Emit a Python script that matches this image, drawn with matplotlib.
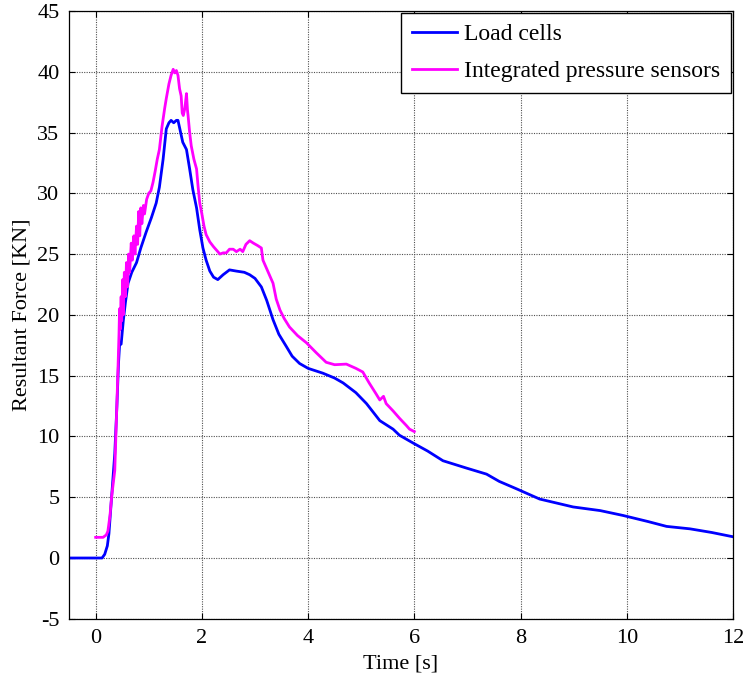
import matplotlib.pyplot as plt

# Load cells (blue)
load_t = [-0.5, 0.0, 0.12, 0.17, 0.22, 0.25, 0.3, 0.36, 0.40, 0.43, 0.45, 0.48, 0.52, 0.56,
          0.61, 0.68, 0.77, 0.85, 0.95, 1.05, 1.14, 1.20, 1.27, 1.33, 1.38, 1.42, 1.47, 1.52,
          1.55, 1.60, 1.64, 1.71, 1.77, 1.83, 1.90, 1.96, 2.02, 2.08, 2.15, 2.22, 2.30, 2.40,
          2.52, 2.65, 2.80, 2.90, 3.00, 3.12, 3.22, 3.34, 3.45, 3.59, 3.70, 3.84, 4.00, 4.28,
          4.50, 4.66, 4.90, 5.10, 5.35, 5.60, 5.72, 5.98, 6.25, 6.54, 6.98, 7.36, 7.60, 7.92,
          8.36, 8.99, 9.5, 9.93, 10.4, 10.75, 11.19, 11.6, 11.94, 12.0]
load_f = [0.0, 0.0, 0.0, 0.3, 1.0, 2.0, 5.0, 8.6, 12.5, 16.0, 17.5, 17.6, 19.5, 21.0,
          22.6, 23.5, 24.3, 25.5, 26.8, 28.0, 29.2, 30.5, 32.8, 35.3, 35.8, 36.0, 35.8, 36.0,
          36.0, 35.0, 34.2, 33.6, 32.0, 30.3, 28.8, 27.0, 25.5, 24.5, 23.6, 23.1, 22.9, 23.3,
          23.7, 23.6, 23.5, 23.3, 23.0, 22.3, 21.2, 19.6, 18.4, 17.4, 16.6, 16.0, 15.6, 15.2,
          14.8, 14.4, 13.6, 12.7, 11.3, 10.6, 10.1, 9.45, 8.8, 8.0, 7.4, 6.9, 6.3, 5.7,
          4.85, 4.2, 3.9, 3.5, 3.0, 2.6, 2.4, 2.1, 1.8, 1.75]

# Integrated pressure sensors (magenta)
press_t = [0.0, 0.14, 0.20, 0.23, 0.27, 0.30, 0.36, 0.39, 0.42, 0.44, 0.45, 0.46, 0.48, 0.49,
           0.51, 0.52, 0.54, 0.56, 0.58, 0.60, 0.62, 0.64, 0.67, 0.69, 0.72, 0.74, 0.77, 0.79,
           0.81, 0.83, 0.85, 0.87, 0.90, 0.92, 0.96, 1.00, 1.04, 1.08, 1.12, 1.16, 1.20, 1.25,
           1.30, 1.33, 1.38, 1.42, 1.46, 1.49, 1.52, 1.55, 1.58, 1.61, 1.63, 1.65, 1.68, 1.71,
           1.73, 1.74, 1.77, 1.80, 1.85, 1.90, 1.93, 1.96, 2.00, 2.04, 2.08, 2.15, 2.22, 2.28,
           2.34, 2.40, 2.46, 2.52, 2.59, 2.65, 2.72, 2.77, 2.83, 2.90, 2.97, 3.05, 3.12, 3.15,
           3.22, 3.34, 3.40, 3.47, 3.55, 3.65, 3.80, 3.97, 4.15, 4.34, 4.50, 4.72, 4.90, 5.03,
           5.15, 5.28, 5.35, 5.42, 5.47, 5.60, 5.72, 5.85, 5.91, 6.00]
press_f = [1.7, 1.7, 1.9, 2.2, 3.5, 5.0, 7.2, 11.3, 15.5, 18.5, 20.5, 18.8, 21.5, 19.5,
           22.9, 20.0, 23.5, 21.5, 24.3, 22.3, 25.0, 23.5, 25.9, 24.5, 26.5, 25.0, 27.3, 25.8,
           28.5, 26.5, 28.8, 27.5, 29.0, 28.3, 29.5, 30.0, 30.2, 30.9, 31.8, 32.8, 33.6, 35.5,
           37.0, 37.8, 39.0, 39.7, 40.2, 39.9, 40.1, 39.7, 38.6, 38.0, 36.6, 36.4, 37.0, 38.2,
           36.8, 36.4, 35.0, 33.9, 32.8, 32.0, 30.5, 29.2, 28.3, 27.3, 26.6, 26.0, 25.6, 25.3,
           25.0, 25.1, 25.1, 25.4, 25.4, 25.2, 25.4, 25.2, 25.8, 26.1, 25.9, 25.7, 25.5, 24.5,
           23.8, 22.6, 21.3, 20.4, 19.7, 19.0, 18.3, 17.7, 16.9, 16.1, 15.9, 15.95, 15.6, 15.3,
           14.4, 13.5, 13.0, 13.3, 12.7, 12.1, 11.5, 10.9, 10.6, 10.4]

plt.rcParams['font.family'] = ['Liberation Serif', 'DejaVu Serif']
plt.rcParams['font.size'] = 16
plt.rcParams['axes.unicode_minus'] = False

fig = plt.figure(figsize=(7.43, 6.83), dpi=100)
ax = fig.add_axes([0.093, 0.094, 0.8935, 0.890])

ax.plot(load_t, load_f, color='#0000ff', lw=2.0, label='Load cells')
ax.plot(press_t, press_f, color='#ff00ff', lw=2.0, label='Integrated pressure sensors')

ax.set_xlim(-0.5, 12)
ax.set_ylim(-5, 45)
ax.set_xticks(range(0, 13, 2))
ax.set_yticks(range(-5, 46, 5))
ax.grid(True, color='#505050', linestyle=(0, (1, 1.2)), linewidth=0.8)
ax.tick_params(direction='in', top=True, right=True, length=4, labelsize=16, pad=7)
for s in ax.spines.values():
    s.set_linewidth(0.9)

ax.set_xlabel('Time [s]', fontsize=16, labelpad=5)
ax.set_ylabel('Resultant Force [KN]', fontsize=16, labelpad=4)

leg = ax.legend(loc='upper right', fancybox=False, edgecolor='black', framealpha=1,
                fontsize=17, handlelength=1.9, labelspacing=0.65, borderaxespad=0.1,
                handletextpad=0.3, borderpad=0.45)
leg.get_frame().set_linewidth(1.0)

fig.savefig('out.png', dpi=100)
